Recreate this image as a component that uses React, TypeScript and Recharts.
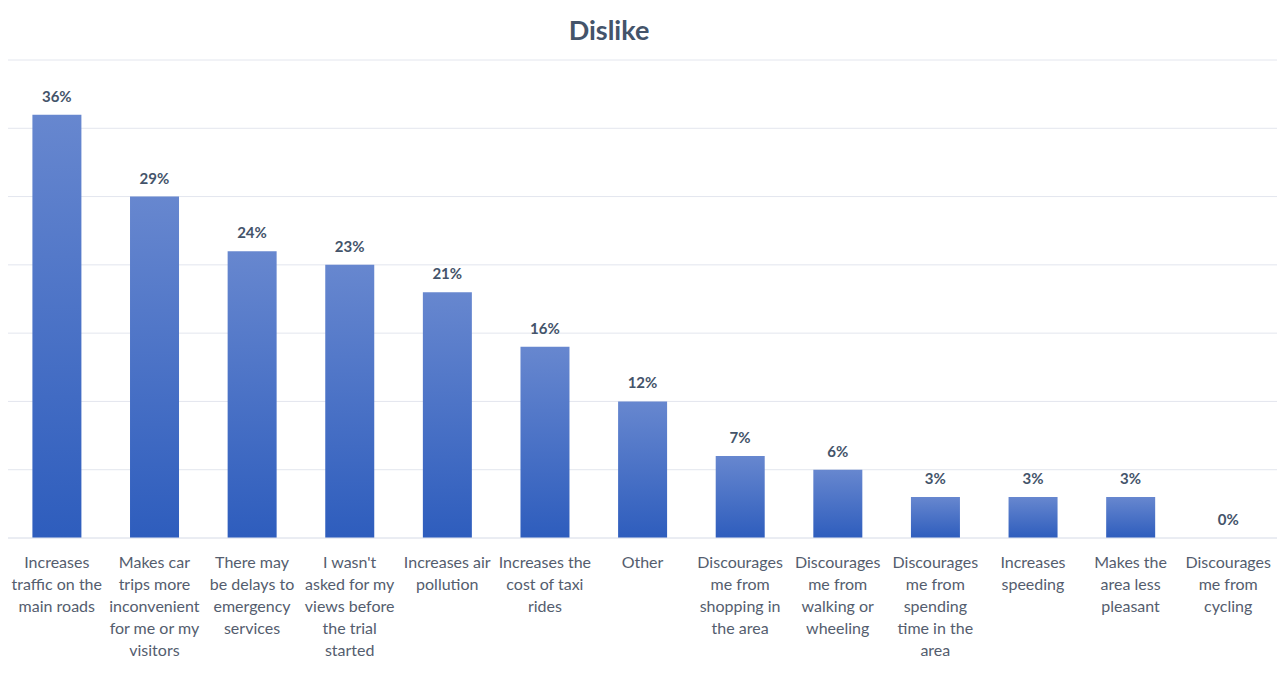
import { ComposedChart, Bar, Line, XAxis, YAxis, CartesianGrid, LabelList } from 'recharts';

// wrapped category labels, as shown under each bar
const labelLines = [
  ['Increases', 'traffic on the', 'main roads'],
  ['Makes car', 'trips more', 'inconvenient', 'for me or my', 'visitors'],
  ['There may', 'be delays to', 'emergency', 'services'],
  ["I wasn't", 'asked for my', 'views before', 'the trial', 'started'],
  ['Increases air', 'pollution'],
  ['Increases the', 'cost of taxi', 'rides'],
  ['Other'],
  ['Discourages', 'me from', 'shopping in', 'the area'],
  ['Discourages', 'me from', 'walking or', 'wheeling'],
  ['Discourages', 'me from', 'spending', 'time in the', 'area'],
  ['Increases', 'speeding'],
  ['Makes the', 'area less', 'pleasant'],
  ['Discourages', 'me from', 'cycling'],
];

// response counts (bar heights)
const counts = [62, 50, 42, 40, 36, 28, 20, 12, 10, 6, 6, 6, 0];

// data labels as printed on the chart
const pctLabels = ['36%', '29%', '24%', '23%', '21%', '16%', '12%', '7%', '6%', '3%', '3%', '3%', '0%'];

const yTicks = [0, 10, 20, 30, 40, 50, 60, 70];

const data = labelLines.map((lines, i) => ({
  name: lines.join(' '),
  count: counts[i],
  pct: pctLabels[i],
}));

const FONT = 'Lato, "Open Sans", sans-serif';

const WrappedTick = (props: any) => {
  const { x, y, index } = props;
  const lines = labelLines[index] || [];
  return (
    <text x={x} y={y} textAnchor="middle" fill="#545d6e" fontSize={16} fontFamily={FONT}>
      {lines.map((l, i) => (
        <tspan key={i} x={x} dy={i === 0 ? 22 : 22}>
          {l}
        </tspan>
      ))}
    </text>
  );
};

export default function App() {
  return (
    <div style={{ position: 'absolute', left: 0, top: 0, width: 1282, height: 688, background: '#fff' }}>
      <div
        style={{
          position: 'absolute',
          top: 13,
          left: 0,
          width: 1218,
          textAlign: 'center',
          fontFamily: FONT,
          fontWeight: 'bold',
          fontSize: 27,
          color: '#44546a',
        }}
      >
        Dislike
      </div>
      <ComposedChart
        width={1282}
        height={688}
        data={data}
        margin={{ top: 60, right: 5, bottom: 0, left: 8 }}
        barCategoryGap="25%"
      >
        <defs>
          <linearGradient id="barGrad" x1="0" y1="0" x2="0" y2="1">
            <stop offset="0%" stopColor="#6787cf" />
            <stop offset="100%" stopColor="#2e5dbd" />
          </linearGradient>
        </defs>
        <CartesianGrid vertical={false} stroke="#e3e6ee" strokeWidth={1} />
        <YAxis hide domain={[0, 70]} ticks={yTicks} />
        <XAxis
          dataKey="name"
          interval={0}
          height={150}
          tickLine={false}
          axisLine={{ stroke: '#e3e6ee' }}
          tick={<WrappedTick />}
        />
        <Bar dataKey="count" fill="url(#barGrad)" isAnimationActive={false} />
        <Line
          dataKey="count"
          stroke="none"
          dot={false}
          activeDot={false}
          legendType="none"
          isAnimationActive={false}
        >
          <LabelList
            dataKey="pct"
            position="top"
            offset={13}
            fill="#44546a"
            fontSize={15}
            fontWeight="bold"
            fontFamily={FONT}
          />
        </Line>
      </ComposedChart>
    </div>
  );
}
